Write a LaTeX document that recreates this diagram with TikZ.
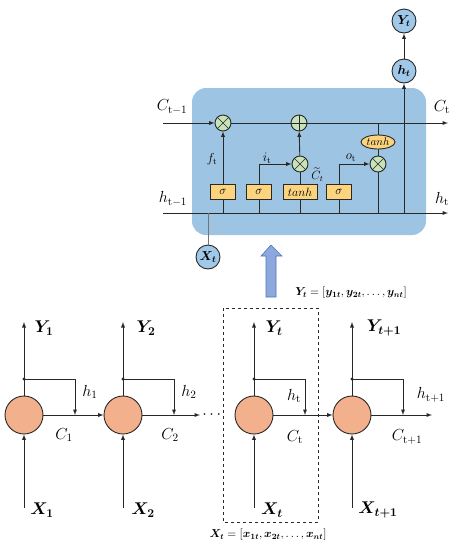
\RequirePackage{fix-cm}
\documentclass[tikz,border=0pt]{standalone}
\usepackage{amsmath}
\usepackage{bm}
\usetikzlibrary{shapes.geometric}

\definecolor{cellblue}{RGB}{158,196,228}
\definecolor{nodeblue}{RGB}{160,200,232}
\definecolor{gateyellow}{RGB}{252,212,125}
\definecolor{opgreen}{RGB}{200,226,186}
\definecolor{unitorange}{RGB}{242,176,140}
\definecolor{arrowblue}{RGB}{140,168,220}
\definecolor{arrowedge}{RGB}{80,116,190}
\definecolor{wire}{RGB}{40,40,40}

\begin{document}
\begin{tikzpicture}[x=1pt,y=-1pt,>=latex,line width=0.9pt]
      \tikzstyle{cnode}=[shape=circle,draw=wire,fill=nodeblue,minimum size=24pt,inner sep=0pt,font=\fontsize{13}{15}\selectfont];
      \tikzstyle{op}=[shape=circle,draw=wire,fill=opgreen,minimum size=16pt,inner sep=0pt];
      \tikzstyle{gate}=[rectangle,draw=wire,fill=gateyellow,minimum width=25pt,minimum height=15pt,inner sep=1pt,font=\fontsize{12}{14}\selectfont];
      \tikzstyle{tanhe}=[ellipse,draw=wire,fill=gateyellow,minimum width=34pt,minimum height=14pt,inner sep=0pt,font=\fontsize{11}{13}\selectfont];
      \tikzstyle{unit}=[shape=circle,draw=wire,fill=unitorange,minimum size=38pt,inner sep=0pt];
      \tikzstyle{cell}=[rounded corners=14pt,fill=cellblue];
      \tikzstyle{lbl}=[inner sep=0pt,font=\fontsize{16}{18}\selectfont];
      \tikzstyle{slbl}=[inner sep=0pt,font=\fontsize{13}{15}\selectfont];
      \tikzstyle{blbl}=[inner sep=0pt,font=\fontsize{17}{20}\selectfont];
      \tikzstyle{vec}=[inner sep=0pt,font=\fontsize{11.5}{13}\selectfont];

      \useasboundingbox (0,0) rectangle (458,550);

      % LSTM cell
      \path[cell] (192,88) rectangle (426,235);

      \coordinate (cin) at (163,123);
      \coordinate (cout) at (448,123);
      \coordinate (hin) at (163,213);
      \coordinate (hout) at (448,213);
      \coordinate (hj) at (404,213);

      \node[op](m1) at (223,123) {};
      \node[op](p1) at (299,123) {};
      \node[op](m2) at (300,164) {};
      \node[op](m3) at (378,164) {};
      \node[tanhe](th) at (378,142) {$tanh$};

      \node[gate](sf) at (223,192) {$\sigma$};
      \node[gate](si) at (259,192) {$\sigma$};
      \node[gate,minimum width=34pt](tc) at (300,192) {$tanh$};
      \node[gate](so) at (339,192) {$\sigma$};

      \node[cnode](Yt) at (404,21) {$\bm{Y_t}$};
      \node[cnode](ht) at (404,71) {$\bm{h_t}$};
      \node[cnode](Xt) at (208,257) {$\bm{X_t}$};

      \draw[->,wire] (cin) -- (m1);
      \draw[wire] (m1) -- (p1);
      \draw[->,wire] (p1) -- (cout);
      \draw[->,wire] (hin) -- (hout);

      \draw[wire] (sf |- hin) -- (sf);
      \draw[->,wire] (sf) -- (m1);
      \draw[wire] (si |- hin) -- (si);
      \draw[->,wire] (si) |- (m2);
      \draw[wire] (tc |- hin) -- (tc);
      \draw[wire] (tc) -- (m2);
      \draw[->,wire] (m2) -- (p1);
      \draw[wire] (so |- hin) -- (so);
      \draw[->,wire] (so) |- (m3);
      \draw[wire] (th |- cin) -- (th);
      \draw[wire] (th) -- (m3);
      \draw[wire] (m3) -- (m3 |- hin);
      \draw[->,wire] (hj) -- (ht);
      \draw[->,wire] (ht) -- (Yt);
      \draw[black!55] (Xt) -- (Xt |- hin);

      \foreach \n in {m1,m2,m3}
        \draw[wire,line width=0.6pt] (\n.north east) -- (\n.south west) (\n.north west) -- (\n.south east);
      \draw[wire,line width=0.6pt] (p1.north) -- (p1.south) (p1.west) -- (p1.east);

      \node[lbl](lcin) at (172,107) {$C_{\mathrm{t-1}}$};
      \node[lbl](lcout) at (442,107) {$C_{\mathrm{t}}$};
      \node[lbl](lhin) at (173,199) {$h_{\mathrm{t-1}}$};
      \node[lbl](lhout) at (442,199) {$h_{\mathrm{t}}$};
      \node[slbl](lf) at (212,159) {$f_{\mathrm{t}}$};
      \node[slbl](li) at (267,158) {$i_{\mathrm{t}}$};
      \node[slbl,anchor=west,font=\fontsize{12}{14}\selectfont](lct) at (311,175) {$\widetilde{C}_t$};
      \node[slbl](lo) at (351,158) {$o_{\mathrm{t}}$};

      % big arrow
      \draw[arrowedge,fill=arrowblue,line width=0.6pt] (266,297) -- (266,256) -- (261,256) -- (271,245) -- (282,256) -- (276,256) -- (276,297) -- cycle;
      \node[vec](ylist) at (351,293) {$\bm{Y_t}=[\bm{y_{1t}},\bm{y_{2t}},\dots,\bm{y_{nt}}]$};

      % unrolled chain
      \node[unit](c1) at (24,415) {};
      \node[unit](c2) at (123,415) {};
      \node[unit](c3) at (254,415) {};
      \node[unit](c4) at (352,415) {};

      \foreach \c in {c1,c2,c3,c4} {
        \coordinate (\c x) at ([yshift=-93pt]\c.center);
        \coordinate (\c y) at ([yshift=93pt]\c.center);
        \coordinate (\c d) at ([yshift=36pt]\c.center);
        \coordinate (\c k) at ([xshift=51pt]\c.center);
        \draw[->,wire] (\c x) -- (\c);
        \draw[->,wire] (\c) -- (\c y);
        \draw[->,wire] (\c d) -| (\c k);
        \fill[wire] (\c d) circle (1.6pt);
      }
      \coordinate (e2) at (200,415);
      \coordinate (e4) at (432,415);
      \draw[->,wire] (c1) -- (c2);
      \draw[->,wire] (c2) -- (e2);
      \draw[->,wire] (c3) -- (c4);
      \draw[->,wire] (c4) -- (e4);
      \node[lbl](dots) at (213,415) {$\cdots$};

      \draw[wire,dashed] (223,308) rectangle (318,522);

      \node[blbl](ly1) at (44,328) {$\bm{Y_1}$};
      \node[blbl](ly2) at (146,328) {$\bm{Y_2}$};
      \node[blbl](ly3) at (274,328) {$\bm{Y_t}$};
      \node[blbl](ly4) at (384,328) {$\bm{Y_{t+1}}$};
      \node[blbl](lx1) at (42,510) {$\bm{X_1}$};
      \node[blbl](lx2) at (143,510) {$\bm{X_2}$};
      \node[blbl](lx3) at (272,510) {$\bm{X_t}$};
      \node[blbl](lx4) at (378,510) {$\bm{X_{t+1}}$};
      \node[lbl](lh1) at (90,392) {$h_1$};
      \node[lbl](lh2) at (189,392) {$h_2$};
      \node[lbl](lh3) at (294,396) {$h_{\mathrm{t}}$};
      \node[lbl](lh4) at (431,395) {$h_{\mathrm{t+1}}$};
      \node[lbl](lc1) at (64,435) {$C_1$};
      \node[lbl](lc2) at (170,435) {$C_2$};
      \node[lbl](lc3) at (295,437) {$C_{\mathrm{t}}$};
      \node[lbl](lc4) at (407,437) {$C_{\mathrm{t+1}}$};
      \node[vec](xlist) at (268,535) {$\bm{X_t}=[\bm{x_{1t}},\bm{x_{2t}},\dots,\bm{x_{nt}}]$};

    \end{tikzpicture}
\end{document}
